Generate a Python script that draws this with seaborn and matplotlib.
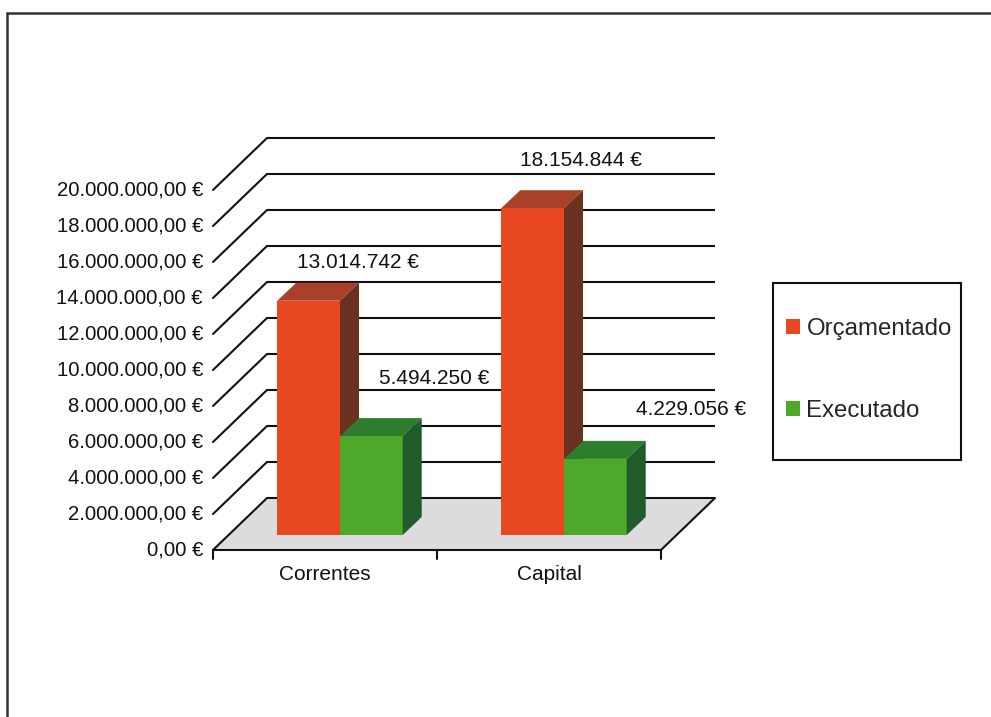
import matplotlib
matplotlib.use("Agg")
import matplotlib.pyplot as plt
from matplotlib.patches import Polygon, Rectangle, Patch
from matplotlib.lines import Line2D
import pandas as pd
import seaborn as sns

# ---- data ----
categories = ["Correntes", "Capital"]
series = ["Orçamentado", "Executado"]
orcamentado = [13014742, 18154844]
executado = [5494250, 4229056]
tick_values = [0, 2e6, 4e6, 6e6, 8e6, 10e6, 12e6, 14e6, 16e6, 18e6, 20e6]
tick_labels = ["0,00 €", "2.000.000,00 €", "4.000.000,00 €", "6.000.000,00 €",
               "8.000.000,00 €", "10.000.000,00 €", "12.000.000,00 €",
               "14.000.000,00 €", "16.000.000,00 €", "18.000.000,00 €",
               "20.000.000,00 €"]

# ---- style ----
RED, RED_TOP, RED_SIDE = "#E8481F", "#A8402A", "#6A3020"
GREEN, GREEN_TOP, GREEN_SIDE = "#4EA829", "#2E7D2E", "#1F5C2A"
FLOOR = "#DCDCDC"
INK = "#111111"
FONT = "Liberation Sans"

W, H = 991, 717
X0_PX, STEP_PX = 340, 224     # first category centre, category spacing (px)
BASE_PX, PX_PER_M = 535, 18   # zero line of the bar plane (from top), px per million

sns.set_theme(style="white")
plt.rcParams["font.family"] = [FONT, "DejaVu Sans"]

fig = plt.figure(figsize=(W / 100, H / 100), dpi=100)
ax = fig.add_axes([0, 0, 1, 1])


def dxp(p):
    return p / STEP_PX


def dyp(p):
    return p / PX_PER_M * 1e6


def figpx(x, y_top):
    return x / W, 1 - y_top / H


df = pd.DataFrame({
    "categoria": categories * 2,
    "serie": [series[0]] * 2 + [series[1]] * 2,
    "valor": orcamentado + executado,
})

sns.barplot(data=df, x="categoria", y="valor", hue="serie", order=categories,
            hue_order=series, palette=[RED, GREEN], width=0.56, saturation=1,
            errorbar=None, legend=False, ax=ax, linewidth=0)

bars = sorted([p for p in ax.patches if isinstance(p, Rectangle) and p.get_height() > 0],
              key=lambda p: p.get_x())

ax.set_xlim(-X0_PX / STEP_PX, (W - X0_PX) / STEP_PX)
ax.set_ylim(dyp(BASE_PX - H), dyp(BASE_PX))
ax.set_axis_off()

# oblique offsets of the front edge, back wall and bar depth
FX, FY = dxp(-15), dyp(-15)
BX, BY = dxp(39), dyp(37)
DX, DY = dxp(19), dyp(18)
XL, XR = -0.5, 1.5

# floor
ax.add_patch(Polygon([(XL + FX, FY), (XR + FX, FY), (XR + BX, BY), (XL + BX, BY)],
                     closed=True, facecolor=FLOOR, edgecolor="none", zorder=1))

# back-wall gridlines and left-wall diagonals
for v in tick_values:
    ax.plot([XL + BX, XR + BX], [v + BY, v + BY], color=INK, lw=1.5, zorder=2,
            solid_capstyle="butt")
    ax.plot([XL + FX, XL + BX], [v + FY, v + BY], color=INK, lw=1.5, zorder=2)

# front and right floor edges with ticks
ax.plot([XL + FX, XR + FX], [FY, FY], color=INK, lw=1.5, zorder=2)
ax.plot([XR + FX, XR + BX], [FY, BY], color=INK, lw=1.5, zorder=2)
for xt in [XL, 0.5, XR]:
    ax.plot([xt + FX, xt + FX], [FY, FY - dyp(9)], color=INK, lw=1.5, zorder=2)

# value-axis labels
for v, lab in zip(tick_values, tick_labels):
    ax.text(XL + FX - dxp(10), v + FY, lab, ha="right", va="center",
            fontsize=14.6, color=INK, family=FONT)

# category labels
for i, c in enumerate(categories):
    ax.text(i + FX, FY - dyp(25), c, ha="center", va="center",
            fontsize=15, color=INK, family=FONT)

# 3D faces for every bar
shade = {RED: (RED_TOP, RED_SIDE), GREEN: (GREEN_TOP, GREEN_SIDE)}
for k, b in enumerate(bars):
    x0, w, h = b.get_x(), b.get_width(), b.get_height()
    x1 = x0 + w
    fc = matplotlib.colors.to_hex(b.get_facecolor())
    top_c, side_c = shade[RED] if fc.lower() == RED.lower() else shade[GREEN]
    z = 5 + 2 * k
    b.set_zorder(z)
    ax.add_patch(Polygon([(x0, h), (x1, h), (x1 + DX, h + DY), (x0 + DX, h + DY)],
                         closed=True, facecolor=top_c, edgecolor="none", zorder=z + 0.5))
    ax.add_patch(Polygon([(x1, 0), (x1, h), (x1 + DX, h + DY), (x1 + DX, DY)],
                         closed=True, facecolor=side_c, edgecolor="none", zorder=z + 0.5))

# value labels above the bars
label_offsets = [(49, 38), (63, 58), (48, 48), (96, 49)]
for b, (ox, oy) in zip(bars, label_offsets):
    h = b.get_height()
    cx = b.get_x() + b.get_width() / 2
    txt = f"{int(round(h)):,}".replace(",", ".") + " €"
    ax.text(cx + dxp(ox), h + dyp(oy), txt, ha="center", va="center",
            fontsize=15, color=INK, family=FONT, zorder=20)

# legend
handles = [Patch(facecolor=RED, edgecolor="none"), Patch(facecolor=GREEN, edgecolor="none")]
ax.legend(handles, series, frameon=False, handlelength=0.6,
          handleheight=0.6, handletextpad=0.25, labelspacing=2.5, borderpad=0,
          borderaxespad=0, loc="center left", bbox_to_anchor=figpx(786, 370),
          bbox_transform=fig.transFigure, prop={"family": FONT, "size": 17.3})
lx0, ly0 = figpx(773, 460)
lx1, ly1 = figpx(961, 283)
fig.add_artist(Rectangle((lx0, ly0), lx1 - lx0, ly1 - ly0, transform=fig.transFigure,
                         fill=False, edgecolor=INK, lw=1.5))

# outer frame
fx0, fy0 = figpx(7, 13)
fig.add_artist(Line2D([fx0, 1], [fy0, fy0], transform=fig.transFigure, color="#333333", lw=1.8))
fig.add_artist(Line2D([fx0, fx0], [fy0, 0], transform=fig.transFigure, color="#333333", lw=1.8))

fig.savefig("out.png", dpi=100)
